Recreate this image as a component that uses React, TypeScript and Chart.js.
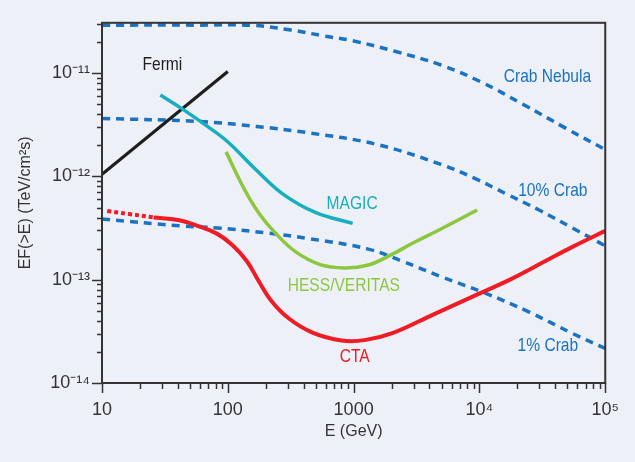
import React, { useEffect, useRef } from 'react';
import { Chart, registerables } from 'chart.js';
Chart.register(...registerables);

// ---------- data ----------
const crabE = [10, 57.6, 154.5, 316.8, 573, 982, 2163, 4943, 10140, 22330, 48330, 100000];
const crabF = [2.92e-11, 2.92e-11, 2.91e-11, 2.62e-11, 2.3e-11, 2.06e-11, 1.62e-11, 1.2e-11, 8.3e-12, 4.98e-12, 2.94e-12, 1.82e-12];

const crab10E = [10, 57.6, 169, 453.6, 1510, 4943, 9100, 16450, 29790, 54830, 100000];
const crab10F = [3.65e-12, 3.41e-12, 3.05e-12, 2.63e-12, 2.05e-12, 1.31e-12, 9.62e-13, 6.75e-13, 4.73e-13, 3.17e-13, 2.13e-13];

const crab1E = [10, 42.4, 82.5, 202.3, 453.6, 1285, 2411, 4943, 10890, 24430, 54830, 100000];
const crab1F = [3.87e-13, 3.32e-13, 3.17e-13, 2.84e-13, 2.49e-13, 1.99e-13, 1.52e-13, 1.07e-13, 7.49e-14, 4.91e-14, 3.02e-14, 2.16e-14];

const fermiE = [10, 100];
const fermiF = [1.05e-12, 1.04e-11];

const magicE = [29.1, 44.0, 68.9, 98.7, 169, 274.6, 496.6, 982];
const magicF = [6.15e-12, 4.46e-12, 3.05e-12, 2.19e-12, 1.15e-12, 6.75e-13, 4.48e-13, 3.51e-13];

const hessE = [96.9, 133.9, 178.5, 242.1, 346.7, 543.3, 851, 1285, 1909, 2990, 4943, 9590];
const hessF = [1.73e-12, 7.71e-13, 4.33e-13, 2.78e-13, 1.86e-13, 1.4e-13, 1.3e-13, 1.38e-13, 1.7e-13, 2.28e-13, 3.1e-13, 4.73e-13];

const ctaLowE = [11.0, 16.4, 25.7];
const ctaLowF = [4.63e-13, 4.33e-13, 4.01e-13];

const ctaE = [25.7, 40.2, 57.6, 82.5, 108, 141.3, 175.3, 221.3, 305.8, 470.6, 805.6, 1218, 2089, 4285, 9950, 17990, 32590, 54830, 100000];
const ctaF = [4.01e-13, 3.79e-13, 3.32e-13, 2.78e-13, 2.18e-13, 1.52e-13, 9.78e-14, 6.27e-14, 4.21e-14, 3.08e-14, 2.58e-14, 2.6e-14, 3.08e-14, 4.6e-14, 7.33e-14, 1.02e-13, 1.49e-13, 2.08e-13, 2.97e-13];

const xTicks = [10, 100, 1000, 1e4, 1e5];
const xTickLabels = ['10', '100', '1000', '10\u2074', '10\u2075'];
const yTicks = [1e-14, 1e-13, 1e-12, 1e-11];
const yTickLabels = ['10\u207B\u00B9\u2074', '10\u207B\u00B9\u00B3', '10\u207B\u00B9\u00B2', '10\u207B\u00B9\u00B9'];

const labelTexts = ['Fermi', 'Crab Nebula', '10% Crab', 'MAGIC', 'HESS/VERITAS', 'CTA', '1% Crab'];
const labelE = [30.2, 34700, 38300, 973, 836, 1019, 35000];
const labelF = [1.2e-11, 9.16e-12, 7.29e-13, 5.47e-13, 8.65e-14, 1.79e-14, 2.28e-14];

// ---------- styles ----------
const BG = '#eef0f7';
const AXIS = '#333333';
const BLUE = '#1a72c2';
const CYAN = '#17aebf';
const GREEN = '#8dc63f';
const RED = '#ee1c25';
const BLACK = '#1e1e1e';
const labelColors = [BLACK, BLUE, BLUE, CYAN, GREEN, RED, BLUE];
const LABEL_FONT = '19px "Liberation Sans", Arial, sans-serif';
const LABEL_SQUEEZE = 0.82;
const TICK_FAMILY = '"Liberation Sans", Arial, sans-serif';

const pts = (xs: number[], ys: number[]) => xs.map((x, i) => ({ x, y: ys[i] }));

const decorPlugin = {
  id: 'decor',
  beforeDraw(chart: any) {
    const { ctx, width, height } = chart;
    ctx.save();
    ctx.fillStyle = BG;
    ctx.fillRect(0, 0, width, height);
    ctx.restore();
  },
  afterDraw(chart: any) {
    const { ctx, chartArea } = chart;
    const xs = chart.scales.x;
    const ys = chart.scales.y;
    ctx.save();
    ctx.strokeStyle = AXIS;
    ctx.lineWidth = 1.5;
    // x ticks (below axis)
    for (let d = 10; d <= 1e5; d *= 10) {
      for (let m = 1; m <= 9; m++) {
        const v = d * m;
        if (v < 10 || v > 1e5) continue;
        const px = Math.round(xs.getPixelForValue(v)) + 0.5;
        const len = m === 1 ? 10 : 6;
        ctx.beginPath();
        ctx.moveTo(px, chartArea.bottom);
        ctx.lineTo(px, chartArea.bottom + len);
        ctx.stroke();
      }
    }
    // y ticks (left of axis)
    for (let d = 1e-14; d <= 1e-11 * 1.01; d *= 10) {
      for (let m = 1; m <= 9; m++) {
        const v = d * m;
        if (v < 1e-14 * 0.999 || v > ys.max) continue;
        const py = Math.round(ys.getPixelForValue(v)) + 0.5;
        const len = m === 1 ? 10 : 5;
        ctx.beginPath();
        ctx.moveTo(chartArea.left, py);
        ctx.lineTo(chartArea.left - len, py);
        ctx.stroke();
      }
    }
    // frame
    ctx.lineWidth = 2;
    ctx.strokeRect(chartArea.left, chartArea.top, chartArea.right - chartArea.left, chartArea.bottom - chartArea.top);
    // curve labels
    ctx.font = LABEL_FONT;
    ctx.textAlign = 'center';
    ctx.textBaseline = 'middle';
    labelTexts.forEach((t, i) => {
      const px = xs.getPixelForValue(labelE[i]);
      const py = ys.getPixelForValue(labelF[i]);
      ctx.save();
      ctx.translate(px, py);
      ctx.scale(LABEL_SQUEEZE, 1);
      ctx.fillStyle = labelColors[i];
      ctx.fillText(t, 0, 0);
      ctx.restore();
    });
    ctx.restore();
  },
};

export default function App() {
  const ref = useRef<HTMLCanvasElement | null>(null);
  useEffect(() => {
    document.body.style.margin = '0';
    document.body.style.background = BG;
    const canvas = ref.current;
    if (!canvas) return;
    const solid = (label: string, xs: number[], ys: number[], color: string, w = 3.5) => ({
      label,
      data: pts(xs, ys),
      borderColor: color,
      borderWidth: w,
      pointRadius: 0,
      fill: false,
      tension: 0.4,
      borderCapStyle: 'butt' as const,
    });
    const chart = new Chart(canvas, {
      type: 'line',
      data: {
        datasets: [
          solid('CTA', ctaE, ctaF, RED, 4),
          { ...solid('CTA low', ctaLowE, ctaLowF, RED, 4), borderDash: [4, 3] },
          solid('HESS/VERITAS', hessE, hessF, GREEN, 3.5),
          solid('MAGIC', magicE, magicF, CYAN, 3.5),
          { ...solid('Fermi', fermiE, fermiF, BLACK, 3.2), tension: 0 },
          { ...solid('Crab Nebula', crabE, crabF, BLUE, 3.5), borderDash: [8, 6] },
          { ...solid('10% Crab', crab10E, crab10F, BLUE, 3.5), borderDash: [8, 6] },
          { ...solid('1% Crab', crab1E, crab1F, BLUE, 3.5), borderDash: [8, 6] },
        ],
      },
      options: {
        responsive: false,
        animation: false,
        devicePixelRatio: 1,
        layout: { padding: { top: 21, right: 20, left: 0, bottom: 0 } },
        plugins: { legend: { display: false }, tooltip: { enabled: false } },
        scales: {
          x: {
            type: 'logarithmic',
            min: 10,
            max: 1e5,
            afterBuildTicks: (s: any) => { s.ticks = xTicks.map((v) => ({ value: v })); },
            afterFit: (s: any) => { s.height = 79; },
            grid: { display: false, drawTicks: false },
            border: { display: false },
            ticks: {
              autoSkip: false,
              maxRotation: 0,
              padding: 16,
              color: AXIS,
              font: { family: TICK_FAMILY, size: 18 },
              callback: (_v: any, i: number) => xTickLabels[i],
            },
            title: {
              display: true,
              text: 'E (GeV)',
              color: AXIS,
              font: { family: TICK_FAMILY, size: 16 },
              padding: { top: 0, bottom: 21 },
            },
          },
          y: {
            type: 'logarithmic',
            min: 1e-14,
            max: 3.076e-11,
            afterBuildTicks: (s: any) => { s.ticks = yTicks.map((v) => ({ value: v })); },
            afterFit: (s: any) => { s.width = 102; },
            grid: { display: false, drawTicks: false },
            border: { display: false },
            ticks: {
              autoSkip: false,
              padding: 12,
              color: AXIS,
              font: { family: TICK_FAMILY, size: 18 },
              callback: (_v: any, i: number) => yTickLabels[i],
            },
            title: {
              display: true,
              text: 'EF(>E) (TeV/cm\u00B2s)',
              color: AXIS,
              font: { family: TICK_FAMILY, size: 16 },
              padding: { top: 16, bottom: 0 },
            },
          },
        },
      },
      plugins: [decorPlugin],
    } as any);
    return () => chart.destroy();
  }, []);
  return (
    <div style={{ width: 635, height: 462, background: BG }}>
      <canvas ref={ref} width={635} height={462} style={{ display: 'block' }} />
    </div>
  );
}
